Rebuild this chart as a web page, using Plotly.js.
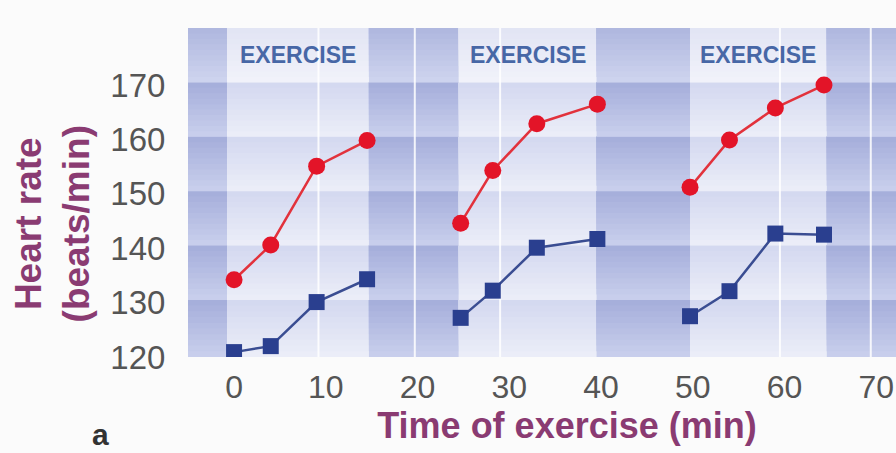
<!DOCTYPE html>
<html><head><meta charset="utf-8">
<script src="https://cdn.plot.ly/plotly-3.0.1.min.js"></script>
<style>html,body{margin:0;padding:0;overflow:hidden;background:#fbfbfb;width:896px;height:453px}#chart{width:946px;height:453px}</style>
</head><body><div id="chart"></div><script>
// Data (three exercise bouts, gaps = rest)
const minutes = [0, 4, 9, 14.5, null, 24.7, 28.2, 33, 39.6, null, 49.7, 54, 59, 64.3];
const redHR   = [134.2, 140.6, 155.1, 159.8, null, 144.6, 154.3, 162.9, 166.5, null, 151.2, 159.9, 165.8, 170.0];
const blueHR  = [120.9, 122.0, 130.1, 134.3, null, 127.2, 132.2, 140.1, 141.7, null, 127.5, 132.1, 142.7, 142.5];
const xTicks = [0, 10, 20, 30, 40, 50, 60, 70];
const yTicks = [120, 130, 140, 150, 160, 170];
const exerciseStart = [-0.75, 24.5, 49.7];
const exerciseEnd   = [14.7, 39.5, 64.6];
const exerciseText = 'EXERCISE';
const gridLinesX = [9.2, 19.7, 29.0, 59.5, 69.4];
const bandEdges = [120, 130.5, 140.5, 150.5, 160.5, 170.5, 180.5];

const XR = [-5.02, 77.6], YR = [120, 180.5];
const FONT = 'Liberation Sans, Arial, Helvetica, sans-serif';
const PURPLE = '#8a3b72';

function mix(a, b, t){ return 'rgb(' + a.map((v,i)=>Math.round(v+(b[i]-v)*t)).join(',') + ')'; }
const pal = {
  dark:  {top:[166,175,219], bot:[200,206,236]},
  light: {top:[212,217,240], bot:[235,237,248]},
  lightTop: {top:[226,229,244], bot:[241,242,250]},
  darkTop: {top:[176,184,223], bot:[205,211,238]}
};
const cols = [];
let prev = XR[0];
for (let i = 0; i < exerciseStart.length; i++) {
  cols.push([prev, exerciseStart[i], 'dark']);
  cols.push([exerciseStart[i], exerciseEnd[i], 'light']);
  prev = exerciseEnd[i];
}
cols.push([prev, XR[1], 'dark']);

const shapes = [];
const N = 10;
cols.forEach(c => {
  for (let b = 0; b < bandEdges.length - 1; b++) {
    const y0 = bandEdges[b], y1 = bandEdges[b+1];
    const isTop = b === bandEdges.length - 2;
    const p = isTop ? pal[c[2] + 'Top'] : pal[c[2]];
    // stacked from the full band (lightest) to the top slice (darkest): no seams
    for (let k = 0; k < N; k++) {
      const depth = (y1 - y0) * (N - k) / N;
      shapes.push({type:'rect', xref:'x', yref:'y', x0:c[0], x1:c[1], y0:y1 - depth, y1:y1,
        fillcolor: mix(p.bot, p.top, k/(N-1)), line:{width:0}, layer:'below'});
    }
  }
});
gridLinesX.forEach(x => shapes.push({type:'line', xref:'x', yref:'y', x0:x, x1:x, y0:YR[0], y1:YR[1],
  line:{color:'rgba(255,255,255,0.85)', width:2}, layer:'below'}));

const annotations = exerciseStart.map((s, i) => ({
  x:(s + exerciseEnd[i]) / 2, y:175.6, xref:'x', yref:'y', text:exerciseText, showarrow:false,
  font:{family:FONT, size:23, color:'#4767a6', weight:700}
}));
annotations.push({xref:'paper', yref:'paper', x:-0.179, y:0.404, xanchor:'center', yanchor:'middle',
  text:'Heart rate<br>(beats/min)', textangle:-90, showarrow:false,
  font:{family:FONT, size:37, color:PURPLE, weight:700}});
annotations.push({xref:'paper', yref:'paper', x:-0.116, y:-0.236, xanchor:'center', yanchor:'middle',
  text:'a', showarrow:false, font:{family:FONT, size:30, color:'#333', weight:700}});

const traces = [
  {x:minutes, y:blueHR, type:'scatter', mode:'lines+markers', name:'Blue', connectgaps:false,
   line:{color:'#3a4d92', width:2.5}, marker:{symbol:'square', size:16, color:'#2a3f8f'}},
  {x:minutes, y:redHR, type:'scatter', mode:'lines+markers', name:'Red', connectgaps:false,
   line:{color:'#e2323c', width:2.5}, marker:{symbol:'circle', size:17, color:'#e31428'}}
];

const layout = {
  width:946, height:453, margin:{l:188, r:0, t:28, b:96},
  paper_bgcolor:'#fbfbfb', plot_bgcolor:'#fbfbfb', showlegend:false,
  xaxis:{range:XR, tickvals:xTicks, showgrid:false, zeroline:false, showline:false,
    ticks:'outside', ticklen:2, tickcolor:'rgba(0,0,0,0)', automargin:false,
    tickfont:{family:FONT, size:32, color:'#555'},
    title:{text:'Time of exercise (min)', standoff:8, font:{family:FONT, size:36, color:PURPLE, weight:700}}},
  yaxis:{range:YR, tickvals:yTicks, showgrid:false, zeroline:false, showline:false,
    ticks:'outside', ticklen:15, tickcolor:'rgba(0,0,0,0)', automargin:false,
    tickfont:{family:FONT, size:33, color:'#555'}},
  shapes:shapes, annotations:annotations
};
Plotly.newPlot('chart', traces, layout, {staticPlot:true, displayModeBar:false});
</script></body></html>
